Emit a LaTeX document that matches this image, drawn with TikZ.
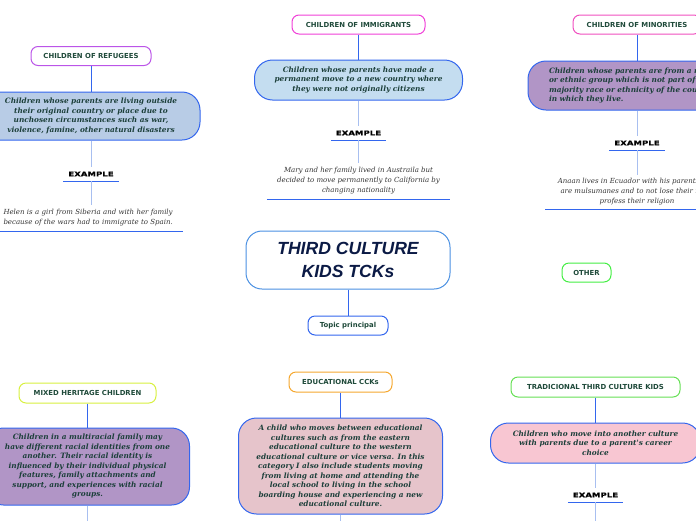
\documentclass[tikz,border=0pt]{standalone}
\usepackage{fontspec}
\usepackage{xcolor}
\usepackage{tikz}
\usetikzlibrary{positioning}

\newfontfamily\labelsans{DejaVu Sans}
\newfontfamily\exsans[FakeStretch=1.3,FakeBold=0.6]{DejaVu Sans}
\newfontfamily\descserif{DejaVu Serif}
\newfontfamily\topicsans{Liberation Sans}

\definecolor{tgreen}{HTML}{1F4A3A}
\definecolor{dtext}{HTML}{1C3F3A}
\definecolor{exgrey}{HTML}{333333}
\definecolor{navy}{HTML}{0B1A45}
\definecolor{bord}{HTML}{3366EE}
\definecolor{lightlink}{HTML}{A8BFF0}
\definecolor{topicbord}{HTML}{4A90E2}
\definecolor{refblue}{HTML}{B8CCE6}
\definecolor{immblue}{HTML}{C4DDF0}
\definecolor{lilac}{HTML}{B195C6}
\definecolor{rosy}{HTML}{E6C4CB}
\definecolor{pinky}{HTML}{F8C6D2}
\definecolor{cpurple}{HTML}{BB55E8}
\definecolor{cmagenta}{HTML}{F040D8}
\definecolor{cpink}{HTML}{F050C0}
\definecolor{cgreen}{HTML}{44EE44}
\definecolor{cyellow}{HTML}{D8F040}
\definecolor{corange}{HTML}{F5A830}
\definecolor{cleaf}{HTML}{66E055}

\tikzset{
  title/.style={draw, line width=1pt, rounded corners=7pt, fill=white, text=tgreen,
    font={\labelsans\bfseries\fontsize{6.9}{8}\selectfont}, minimum height=19pt, inner sep=2pt},
  desc/.style={draw=bord, line width=1pt, rounded corners=18pt, text=dtext, align=center,
    font={\descserif\bfseries\itshape\fontsize{7.35}{9.5}\selectfont}, inner sep=3pt},
  example/.style={minimum width=55pt, minimum height=14pt, inner sep=1pt,
    font={\exsans\bfseries\fontsize{6.6}{8}\selectfont},
    append after command={(\tikzlastnode.south west) edge[uline] (\tikzlastnode.south east)}},
  extext/.style={minimum width=183pt, inner sep=2pt, text=exgrey, align=center,
    font={\descserif\itshape\fontsize{7}{10}\selectfont},
    append after command={(\tikzlastnode.south west) edge[uline] (\tikzlastnode.south east)}},
  uline/.style={draw=bord, line width=1.4pt},
  link/.style={draw=bord, line width=0.9pt},
  sublink/.style={draw=lightlink, line width=0.9pt}
}

\begin{document}
\begin{tikzpicture}[x=1pt, y=1pt, on grid]
        \useasboundingbox (0,0) rectangle (696,-520);
        \clip (0,0) rectangle (696,-520);

        % children of refugees
        \node[title, draw=cpurple, minimum width=120pt] (refugees) at (91,-56) {CHILDREN OF REFUGEES};
        \node[desc, fill=refblue, below=60pt of refugees, minimum width=218pt, minimum height=48pt] (refugees-desc)
            {Children whose parents are living outside\\their original country or place due to\\unchosen circumstances such as war,\\violence, famine, other natural disasters};
        \node[example, below=58pt of refugees-desc] (refugees-ex) {EXAMPLE};
        \node[extext, below=44pt of refugees-ex, minimum height=26pt, text width=175pt, align=left] (refugees-txt)
            {Helen is a girl from Siberia and with her family\\because of the wars had to immigrate to Spain.};

        % children of immigrants
        \node[title, draw=cmagenta, minimum width=133pt] (immigrants) at (358.5,-24.5) {CHILDREN OF IMMIGRANTS};
        \node[desc, fill=immblue, below=55.5pt of immigrants, minimum width=208pt, minimum height=40pt] (immigrants-desc)
            {Children whose parents have made a\\permanent move to a new country where\\they were not originally citizens};
        \node[example, below=53pt of immigrants-desc] (immigrants-ex) {EXAMPLE};
        \node[extext, below=48pt of immigrants-ex, minimum height=36pt] (immigrants-txt)
            {Mary and her family lived in Austraila but\\decided to move permanently to California by\\changing nationality};

        % children of minorities
        \node[title, draw=cpink, minimum width=128pt] (minorities) at (637,-24.5) {CHILDREN OF MINORITIES};
        \node[desc, fill=lilac, below=61pt of minorities, minimum width=218pt, minimum height=49pt,
              text width=176pt, align=left] (minorities-desc)
            {Children whose parents are from a racial\\or ethnic group which is not part of the\\majority race or ethnicity of the country\\in which they live.};
        \node[example, below=57.5pt of minorities-desc] (minorities-ex) {EXAMPLE};
        \node[extext, below=49pt of minorities-ex, minimum height=34pt] (minorities-txt)
            {Anaan lives in Ecuador with his parents who\\are mulsumanes and to not lose their roots\\profess their religion};

        % central topic
        \node[draw=topicbord, line width=1pt, rounded corners=16pt, fill=white, text=navy, align=center,
              font={\topicsans\bfseries\itshape\fontsize{17.6}{22.5}\selectfont},
              minimum width=204pt, minimum height=58pt] (tck) at (348,-260) {THIRD CULTURE\\KIDS TCKs};
        \node[title, draw=bord, below=65.5pt of tck, minimum width=80pt] (topic) {Topic principal};
        \node[title, draw=cgreen, minimum width=49pt] (other) at (586.5,-272.5) {OTHER};

        % mixed heritage children
        \node[title, draw=cyellow, minimum width=137pt, minimum height=20pt] (mixed) at (87.5,-393) {MIXED HERITAGE CHILDREN};
        \node[desc, fill=lilac, below=73.5pt of mixed, minimum width=204pt, minimum height=77pt] (mixed-desc)
            {Children in a multiracial family may\\have different racial identities from one\\another. Their racial identity is\\influenced by their individual physical\\features, family attachments and\\support, and experiences with racial\\groups.};
        \coordinate (mixed-end) at (87.5,-530);

        % educational cck
        \node[title, draw=corange, minimum width=103pt, minimum height=20pt] (edu) at (340.5,-382) {EDUCATIONAL CCKs};
        \node[desc, fill=rosy, below=84pt of edu, minimum width=204pt, minimum height=96pt] (edu-desc)
            {A child who moves between educational\\cultures such as from the eastern\\educational culture to the western\\educational culture or vice versa. In this\\category I also include students moving\\from living at home and attending the\\local school to living in the school\\boarding house and experiencing a new\\educational culture.};
        \coordinate (edu-end) at (340.5,-530);

        % tradicional third culture kids
        \node[title, draw=cleaf, minimum width=169pt, minimum height=20pt] (trad) at (595.5,-387) {TRADICIONAL THIRD CULTURE KIDS};
        \node[desc, fill=pinky, below=56pt of trad, minimum width=210pt, minimum height=40pt] (trad-desc)
            {Children who move into another culture\\with parents due to a parent's career\\choice};
        \node[example, below=52pt of trad-desc] (trad-ex) {EXAMPLE};
        \coordinate (trad-end) at (595.5,-530);

        \path[link]
        (refugees) edge (refugees-desc)
        (immigrants) edge (immigrants-desc)
        (minorities) edge (minorities-desc)
        (tck) edge (topic)
        (mixed) edge (mixed-desc)
        (edu) edge (edu-desc)
        (trad) edge (trad-desc);

        \path[sublink]
        (refugees-desc) edge (refugees-ex)
        (refugees-ex) edge (refugees-txt)
        (immigrants-desc) edge (immigrants-ex)
        (immigrants-ex) edge (immigrants-txt)
        (minorities-desc) edge (minorities-ex)
        (minorities-ex) edge (minorities-txt)
        (mixed-desc) edge (mixed-end)
        (edu-desc) edge (edu-end)
        (trad-desc) edge (trad-ex)
        (trad-ex) edge (trad-end);

    \end{tikzpicture}
\end{document}
